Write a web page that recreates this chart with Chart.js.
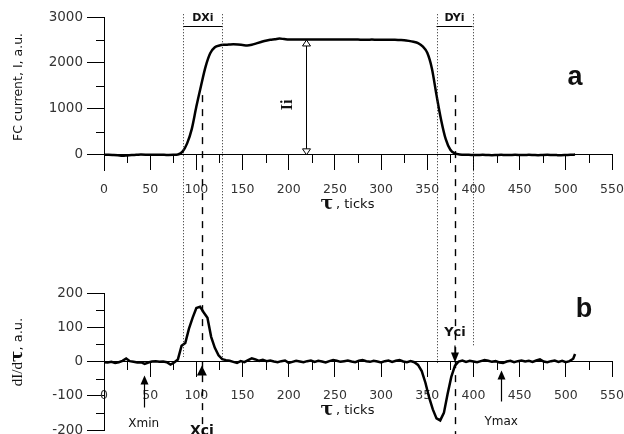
<!DOCTYPE html>
<html><head><meta charset="utf-8">
<script src="https://cdn.jsdelivr.net/npm/chart.js@4.4.1/dist/chart.umd.min.js"></script>
<style>
html,body{margin:0;padding:0;background:#fff;}
#wrap{position:relative;width:624px;height:434px;overflow:hidden;}
canvas{position:absolute;left:0;top:0;}
</style></head><body>
<div id="wrap"><canvas id="cb" width="624" height="434"></canvas><canvas id="ct" width="624" height="434"></canvas></div>
<script>
// ---------- data ----------
const xTickLabels = [0,50,100,150,200,250,300,350,400,450,500,550];
const xMinorTicks = [25,75,125,175,225,275,325,375,425,475,525];
const currentYTicks = [0,1000,2000,3000];
const currentYMinor = [500,1500,2500];
const derivYTicks = [-200,-100,0,100,200];
const derivYMinor = [-150,-50,50,150];

const currentTicks = [0,5,10,15,20,25,30,35,40,45,50,55,60,65,70,75,80,85,90,95,100,105,110,115,120,125,130,135,140,145,150,155,160,165,170,175,180,185,190,195,200,205,210,215,220,225,230,235,240,245,250,255,260,265,270,275,280,285,290,295,300,305,310,315,320,325,330,335,340,345,350,355,360,365,370,375,380,385,390,395,400,405,410,415,420,425,430,435,440,445,450,455,460,465,470,475,480,485,490,495,500,505,510];
const currentValues = [0,0,-3,-8,-18,-12,-4,0,6,4,0,2,0,0,-2,0,8,70,250,560,1050,1500,1920,2210,2340,2380,2395,2400,2405,2400,2390,2380,2395,2425,2455,2485,2505,2515,2530,2520,2510,2510,2510,2510,2512,2510,2510,2508,2510,2510,2510,2508,2508,2510,2508,2508,2506,2506,2508,2506,2505,2505,2505,2505,2500,2495,2480,2460,2430,2360,2220,1880,1300,760,340,110,30,8,0,0,-5,-3,0,-4,-8,-4,0,-6,-3,0,-2,-5,0,-4,-8,-2,0,-3,-6,-8,-4,0,5];

const derivTicks = [0,4,8,12,16,20,24,28,32,36,40,44,48,52,56,60,64,68,72,76,80,84,88,92,96,100,104,108,112,116,120,124,128,132,136,140,144,148,152,156,160,164,168,172,176,180,184,188,192,196,200,204,208,212,216,220,224,228,232,236,240,244,248,252,256,260,264,268,272,276,280,284,288,292,296,300,304,308,312,316,320,324,328,332,336,340,344,348,352,356,360,364,368,372,376,380,384,388,392,396,400,404,408,412,416,420,424,428,432,436,440,444,448,452,456,460,464,468,472,476,480,484,488,492,496,500,504,508,510];
const derivValues = [-2,-3,-1,-4,-2,2,9,1,-1,-3,-2,-7,-3,0,1,-1,0,-2,-9,-3,6,46,54,96,128,156,160,143,128,72,40,18,7,4,2,-1,-4,1,-2,4,9,6,2,5,1,3,0,-2,1,3,-4,-1,2,0,-2,1,3,-1,2,0,-3,1,4,2,-1,1,3,0,-2,2,4,1,-1,2,0,-3,1,3,-1,2,4,0,-2,1,-2,-10,-28,-62,-105,-140,-166,-172,-150,-95,-45,-12,0,3,-1,2,0,-2,1,4,2,-1,1,-3,-4,0,2,-2,1,3,0,2,-1,3,6,0,-2,1,3,-1,2,-2,1,8,22];

// marker positions in ticks
const dxiBounds = [86, 128];
const dyiBounds = [360, 399];
const xciTick = 106;
const yciTick = 380;
const xminTick = 43;
const ymaxTick = 430;
const iiTick = 219;
const iiLevel = 2500;

// ---------- helpers ----------
const SANS = 'DejaVu Sans';
function pts(xs, ys){ return xs.map((x,i)=>({x:x, y:ys[i]})); }

function minorTicksPlugin(yMinor){
  return {
    id:'minor',
    afterDraw(chart){
      const c = chart.ctx, xs = chart.scales.x, ys = chart.scales.y;
      const ay = Math.round(ys.getPixelForValue(0));
      c.save(); c.strokeStyle='#000'; c.lineWidth=1;
      c.beginPath();
      xMinorTicks.forEach(v=>{ const px=Math.round(xs.getPixelForValue(v))+0.5; c.moveTo(px,ay); c.lineTo(px,ay+8); });
      yMinor.forEach(v=>{ const py=Math.round(ys.getPixelForValue(v))+0.5; c.moveTo(xs.left,py); c.lineTo(xs.left-8,py); });
      c.stroke(); c.restore();
    }
  };
}

function baseOptions(yMin, yMax, yTicks, padTop, padBottom){
  return {
    responsive:false, animation:false, events:[],
    layout:{padding:{left:0,right:12,top:padTop,bottom:padBottom}},
    plugins:{legend:{display:false}, tooltip:{enabled:false}},
    scales:{
      x:{type:'linear', min:0, max:550, position:{y:0},
        afterBuildTicks:s=>{ s.ticks = xTickLabels.map(v=>({value:v})); },
        afterFit:s=>{ s.paddingLeft=0; s.paddingRight=0; },
        grid:{drawOnChartArea:false, drawTicks:true, tickLength:15, color:'#000', tickColor:'#000', lineWidth:1},
        border:{display:true, color:'#000', width:1},
        ticks:{padding:12, color:'#333', font:{family:SANS, size:12.5}, maxRotation:0, autoSkip:false, callback:v=>String(v)}},
      y:{type:'linear', min:yMin, max:yMax, position:'left',
        afterBuildTicks:s=>{ s.ticks = yTicks.map(v=>({value:v})); },
        afterFit:s=>{ s.width = 104; s.paddingTop=0; s.paddingBottom=0; },
        grid:{drawOnChartArea:false, drawTicks:true, tickLength:17, color:'#000', tickColor:'#000', lineWidth:1},
        border:{display:true, color:'#000', width:1},
        ticks:{padding:4, color:'#333', font:{family:SANS, size:13.5}, autoSkip:false, callback:v=>String(v)}}
    }
  };
}

function txt(c, s, x, y, font, align, base){
  c.font = font; c.fillStyle = '#111'; c.textAlign = align||'center'; c.textBaseline = base||'alphabetic';
  c.fillText(s, x, y);
}
function upArrow(c, x, yTip, yEnd){
  c.beginPath(); c.moveTo(x, yTip+6); c.lineTo(x, yEnd); c.stroke();
  c.beginPath(); c.moveTo(x, yTip); c.lineTo(x-4, yTip+9); c.lineTo(x+4, yTip+9); c.closePath(); c.fill();
}

// ---------- bottom chart (b) ----------
const bottomLabels = {
  id:'bottomLabels',
  afterDraw(chart){
    const c = chart.ctx, xs = chart.scales.x, ys = chart.scales.y;
    const y0 = ys.getPixelForValue(0);
    c.save();
    c.strokeStyle='#000'; c.fillStyle='#000'; c.lineWidth=1.2;
    upArrow(c, Math.round(xs.getPixelForValue(xminTick))+0.5, y0+14, y0+46);
    upArrow(c, Math.round(xs.getPixelForValue(ymaxTick))+0.5, y0+9, y0+40);
    const xc = xs.getPixelForValue(xciTick);
    c.beginPath(); c.moveTo(xc, y0+4); c.lineTo(xc-5, y0+14); c.lineTo(xc+5, y0+14); c.closePath(); c.fill();
    const yc = xs.getPixelForValue(yciTick);
    c.beginPath(); c.moveTo(yc, y0-16); c.lineTo(yc, y0-6); c.stroke();
    c.beginPath(); c.moveTo(yc, y0+1); c.lineTo(yc-4, y0-9); c.lineTo(yc+4, y0-9); c.closePath(); c.fill();
    txt(c, 'Xmin', xs.getPixelForValue(xminTick), y0+65, '12px '+SANS);
    txt(c, 'Ymax', xs.getPixelForValue(ymaxTick), y0+63, '12px '+SANS);
    txt(c, 'Xci', xc, y0+63, 'bold 14px '+SANS, 'center', 'top');
    txt(c, 'Yci', yc, y0-26, 'bold 13px '+SANS);
    txt(c, 'b', 584, 317, 'bold 27px "Liberation Sans"');
    txt(c, 'τ', 327, 415, 'bold 19px "DejaVu Serif"');
    txt(c, ', ticks', 336, 414, '13px '+SANS, 'left');
    c.save(); c.translate(22, 352); c.rotate(-Math.PI/2);
    c.font = '15px "Liberation Serif"'; const w1 = c.measureText('dI/d').width;
    c.font = 'bold 17px "DejaVu Serif"'; const w2 = c.measureText('τ').width;
    c.font = '13px '+SANS; const w3 = c.measureText(', a.u.').width;
    let sx = -(w1+w2+w3)/2;
    txt(c, 'dI/d', sx, 0, '15px "Liberation Serif"', 'left'); sx += w1;
    txt(c, 'τ', sx, 0, 'bold 17px "DejaVu Serif"', 'left'); sx += w2;
    txt(c, ', a.u.', sx, 0, '13px '+SANS, 'left');
    c.restore();
    c.restore();
  }
};
const optB = baseOptions(-200, 200, derivYTicks, 293, 4);
const bottomChart = new Chart(document.getElementById('cb'), {
  type:'line',
  data:{datasets:[{data:pts(derivTicks, derivValues), borderColor:'#000', borderWidth:2.5, pointRadius:0, tension:0, fill:false}]},
  options:optB,
  plugins:[minorTicksPlugin(derivYMinor), bottomLabels]
});

// ---------- top chart (a) ----------
const topLabels = {
  id:'topLabels',
  afterDraw(chart){
    const c = chart.ctx, xs = chart.scales.x, ys = chart.scales.y, yb = bottomChart.scales.y;
    c.save();
    c.strokeStyle='#222'; c.lineWidth=1;
    c.setLineDash([1,2]);
    [[dxiBounds[0],357],[dxiBounds[1],357],[dyiBounds[0],363],[dyiBounds[1],347]].forEach(([v,bot])=>{
      const px = Math.round(xs.getPixelForValue(v))+0.5;
      c.beginPath(); c.moveTo(px, ys.getPixelForValue(3060)); c.lineTo(px, bot); c.stroke();
    });
    c.setLineDash([7,7]); c.lineWidth=1.4; c.strokeStyle='#000';
    [xciTick, yciTick].forEach(v=>{
      const px = Math.round(xs.getPixelForValue(v))+0.5;
      c.beginPath(); c.moveTo(px, ys.getPixelForValue(1300)); c.lineTo(px, yb.getPixelForValue(-215)); c.stroke();
    });
    c.setLineDash([]); c.lineWidth=1;
    const by = 26.5;
    [dxiBounds, dyiBounds].forEach(b=>{
      c.beginPath(); c.moveTo(xs.getPixelForValue(b[0]), by); c.lineTo(xs.getPixelForValue(b[1]), by); c.stroke();
    });
    txt(c, 'DXi', (xs.getPixelForValue(dxiBounds[0])+xs.getPixelForValue(dxiBounds[1]))/2, 21, 'bold 11px '+SANS);
    txt(c, 'DYi', (xs.getPixelForValue(dyiBounds[0])+xs.getPixelForValue(dyiBounds[1]))/2, 21, 'bold 11px '+SANS);
    const ix = Math.round(xs.getPixelForValue(iiTick))+0.5;
    const yTop = ys.getPixelForValue(iiLevel), yBot = ys.getPixelForValue(0);
    c.beginPath(); c.moveTo(ix, yTop); c.lineTo(ix, yBot); c.stroke();
    c.fillStyle='#fff';
    c.beginPath(); c.moveTo(ix, yTop); c.lineTo(ix-4, yTop+6); c.lineTo(ix+4, yTop+6); c.closePath(); c.fill(); c.stroke();
    c.beginPath(); c.moveTo(ix, yBot); c.lineTo(ix-4, yBot-6); c.lineTo(ix+4, yBot-6); c.closePath(); c.fill(); c.stroke();
    c.save(); c.translate(292, 105); c.rotate(-Math.PI/2);
    txt(c, 'Ii', 0, 0, 'bold 16px "Liberation Serif"');
    c.restore();
    txt(c, 'a', 575, 85, 'bold 27px "Liberation Sans"');
    txt(c, 'τ', 327, 209, 'bold 19px "DejaVu Serif"');
    txt(c, ', ticks', 336, 208, '13px '+SANS, 'left');
    c.save(); c.translate(22, 87); c.rotate(-Math.PI/2);
    txt(c, 'FC current, I, a.u.', 0, 0, '12.5px '+SANS);
    c.restore();
    c.restore();
  }
};
const optT = baseOptions(-330, 3000, currentYTicks, 17, 264);
const topChart = new Chart(document.getElementById('ct'), {
  type:'line',
  data:{datasets:[{data:pts(currentTicks, currentValues), borderColor:'#000', borderWidth:2.5, pointRadius:0, cubicInterpolationMode:'monotone', fill:false}]},
  options:optT,
  plugins:[minorTicksPlugin(currentYMinor), topLabels]
});
</script>
</body></html>
